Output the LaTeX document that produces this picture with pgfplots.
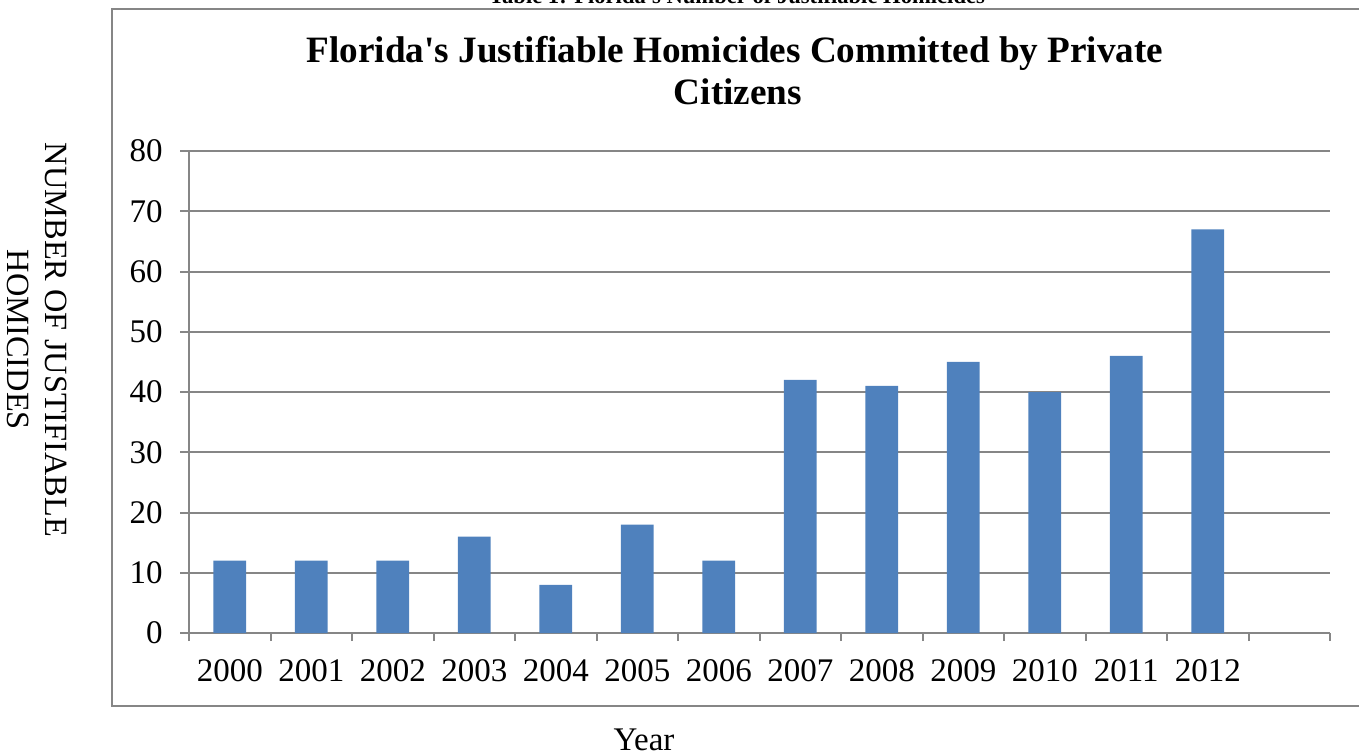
\documentclass[border=0pt]{standalone}
\usepackage{fontspec}
\setmainfont{Liberation Serif}[Ligatures=TeXOff]
\usepackage{pgfplots}
\pgfplotsset{compat=1.18}
\definecolor{barblue}{HTML}{4F81BD}
\definecolor{axgray}{HTML}{868686}
\begin{document}
\begin{tikzpicture}
\useasboundingbox (0,0) rectangle (679.5pt,377.5pt);
% outer chart frame
\draw[axgray, line width=1pt] (690pt,373pt) -- (56pt,373pt) -- (56pt,24.5pt) -- (690pt,24.5pt);
% caption (cut off at top as in the source)
\node[font=\bfseries\fontsize{11.3}{13}\selectfont, anchor=base, inner sep=0pt] at (368.5pt,375.5pt) {Table 1: Florida's Number of Justifiable Homicides};
% chart title
\node[font=\bfseries\fontsize{18.6}{21}\selectfont, anchor=base, inner sep=0pt] at (367.5pt,346pt) {Florida's Justifiable Homicides Committed by Private};
\node[font=\bfseries\fontsize{18.6}{21}\selectfont, anchor=base, inner sep=0pt] at (369pt,325pt) {Citizens};
% y label
\node[font=\fontsize{16.2}{19}\selectfont, anchor=base, inner sep=0pt, rotate=-90] at (22.5pt,207.5pt) {NUMBER OF JUSTIFIABLE};
\node[font=\fontsize{16.2}{19}\selectfont, anchor=base, inner sep=0pt, rotate=-90] at (3.5pt,207.5pt) {HOMICIDES};
% x label
\node[font=\fontsize{16.5}{19}\selectfont, anchor=base, inner sep=0pt] at (322pt,2.5pt) {Year};
\begin{axis}[
  at={(94.5pt,61pt)}, anchor=south west,
  scale only axis, width=570.5pt, height=241pt,
  xmin=-0.5, xmax=13.5, ymin=0, ymax=80,
  enlargelimits=false,
  axis lines=left,
  axis line style={-, draw=axgray, line width=1pt},
  tick align=outside,
  xtick={0,...,12},
  xticklabels={2000,2001,2002,2003,2004,2005,2006,2007,2008,2009,2010,2011,2012},
  minor xtick={-0.5,0.5,...,13.5},
  major x tick style={draw=none},
  minor x tick style={draw=axgray, line width=1pt},
  major tick length=4.5pt,
  minor tick length=4pt,
  ytick={0,10,...,80},
  y tick style={draw=axgray, line width=1pt},
  ymajorgrids,
  major grid style={draw=axgray, line width=1pt},
  /pgf/number format/assume math mode=true,
  ticklabel style={font=\fontsize{16.5}{19}\selectfont},
  xticklabel style={anchor=north, inner sep=0pt, yshift=-8.5pt},
  yticklabel style={anchor=east, inner sep=0pt, xshift=-8.5pt},
  ybar, bar width=0.4,
]
\addplot[fill=barblue, draw=none] coordinates {
(0,12) (1,12) (2,12) (3,16) (4,8) (5,18) (6,12) (7,42) (8,41) (9,45) (10,40) (11,46) (12,67)
};
\end{axis}
\end{tikzpicture}
\end{document}
